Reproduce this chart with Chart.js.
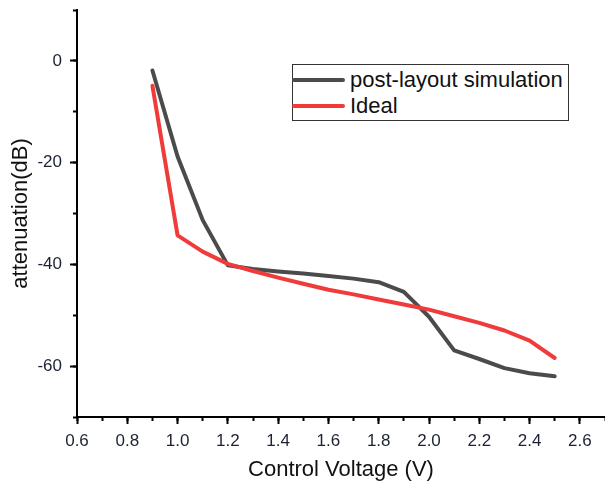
<!DOCTYPE html>
<html>
<head>
<meta charset="utf-8">
<script src="https://cdn.jsdelivr.net/npm/chart.js@4"></script>
<style>
  body { margin: 0; background: #fff; }
  #wrap { position: relative; width: 605px; height: 483px; }
  #legend {
    position: absolute; left: 292px; top: 64px; width: 275px; height: 55px;
    border: 1px solid #333; background: #fff;
    font-family: "Liberation Sans", Arial, sans-serif; font-size: 22px; color: #111;
  }
  .row { position: absolute; left: 0; height: 24px; line-height: 24px; }
  .swatch { position: absolute; left: -1px; top: 10px; width: 53px; height: 4px; border-radius: 2px; }
  .label { position: absolute; left: 57px; top: 0; white-space: nowrap; }
</style>
</head>
<body>
<div id="wrap">
  <canvas id="chart" width="605" height="483"></canvas>
  <div id="legend"></div>
</div>
<script>
// DATA
const voltage = [0.9, 1.0, 1.1, 1.2, 1.3, 1.4, 1.5, 1.6, 1.7, 1.8, 1.9, 2.0, 2.1, 2.2, 2.3, 2.4, 2.5];
const postLayout = [-1.9, -18.8, -31.3, -40.2, -40.9, -41.4, -41.8, -42.3, -42.8, -43.5, -45.4, -50.3, -56.9, -58.6, -60.4, -61.4, -62.0];
const ideal = [-4.9, -34.3, -37.5, -39.9, -41.3, -42.6, -43.8, -45.0, -45.9, -46.9, -47.9, -48.9, -50.2, -51.5, -53.0, -55.0, -58.4];
const seriesNames = ["post-layout simulation", "Ideal"];
const seriesColors = ["#4b4b4b", "#f03b3b"];

const tickFont = { family: "'Liberation Sans', Arial, sans-serif", size: 17 };
const titleFont = { family: "'Liberation Sans', Arial, sans-serif", size: 22 };

function toPoints(ys) {
  return voltage.map((x, i) => ({ x: x, y: ys[i] }));
}

function isMajorX(v) {
  return Math.round(v * 10) % 2 === 0;
}

function isMajorY(v) {
  return Math.round(v) % 20 === 0;
}

// no extra room for half labels at the axis ends
function noPad(s) {
  s.paddingTop = 0;
  s.paddingBottom = 0;
  s.paddingLeft = 0;
  s.paddingRight = 0;
}

// minor tick axes sit right on the chart area with zero size
function minorAxis(pos, min, max, step) {
  return {
    type: "linear", position: pos, weight: 0, min: min, max: max,
    border: { display: false },
    grid: { drawOnChartArea: false, tickLength: 4, tickWidth: 2, tickColor: "#000" },
    ticks: { display: false, stepSize: step, autoSkip: false },
    afterFit: s => {
      if (pos === "bottom") s.height = 0; else s.width = 0;
      noPad(s);
    }
  };
}

new Chart(document.getElementById("chart"), {
  type: "line",
  data: {
    datasets: [
      {
        label: seriesNames[0], data: toPoints(postLayout),
        borderColor: seriesColors[0], borderWidth: 4, order: 2
      },
      {
        label: seriesNames[1], data: toPoints(ideal),
        borderColor: seriesColors[1], borderWidth: 4, order: 1
      }
    ]
  },
  options: {
    responsive: false,
    animation: false,
    layout: { padding: { top: 10, right: 0, left: 0, bottom: 0 } },
    elements: {
      point: { radius: 0 },
      line: { tension: 0, borderCapStyle: "round", borderJoinStyle: "round" }
    },
    plugins: { legend: { display: false }, tooltip: { enabled: false } },
    scales: {
      x: {
        type: "linear", position: "bottom", weight: 1, min: 0.6, max: 2.7,
        border: { color: "#000", width: 2 },
        grid: {
          drawOnChartArea: false, tickLength: 7, tickWidth: 2,
          tickColor: c => isMajorX(c.tick.value) ? "#000" : "rgba(0,0,0,0)"
        },
        ticks: {
          stepSize: 0.1, autoSkip: false, maxRotation: 0, padding: 7,
          color: "#1c2233", font: tickFont,
          callback: v => isMajorX(v) ? v.toFixed(1) : ""
        },
        title: { display: true, text: "Control Voltage (V)", color: "#111", font: titleFont, padding: 0 },
        afterFit: s => { s.height = 66; noPad(s); }
      },
      xMinor: minorAxis("bottom", 0.6, 2.7, 0.1),
      y: {
        type: "linear", position: "left", weight: 1, min: -70, max: 10,
        border: { color: "#000", width: 2 },
        grid: {
          drawOnChartArea: false, tickLength: 7, tickWidth: 2,
          tickColor: c => isMajorY(c.tick.value) ? "#000" : "rgba(0,0,0,0)"
        },
        ticks: {
          stepSize: 10, autoSkip: false, padding: 8,
          color: "#1c2233", font: tickFont,
          callback: v => isMajorY(v) ? String(v) : ""
        },
        title: { display: true, text: "attenuation(dB)", color: "#111", font: titleFont, padding: { top: 8, bottom: 0 } },
        afterFit: s => { s.width = 77; noPad(s); }
      },
      yMinor: minorAxis("left", -70, 10, 10)
    }
  }
});

// LEGEND
const legend = document.getElementById("legend");
seriesNames.forEach((name, i) => {
  const row = document.createElement("div");
  row.className = "row";
  row.style.top = (3 + i * 26) + "px";
  row.style.width = "100%";
  const sw = document.createElement("div");
  sw.className = "swatch";
  sw.style.background = seriesColors[i];
  const lb = document.createElement("div");
  lb.className = "label";
  lb.innerText = name;
  row.appendChild(sw);
  row.appendChild(lb);
  legend.appendChild(row);
});
</script>
</body>
</html>
